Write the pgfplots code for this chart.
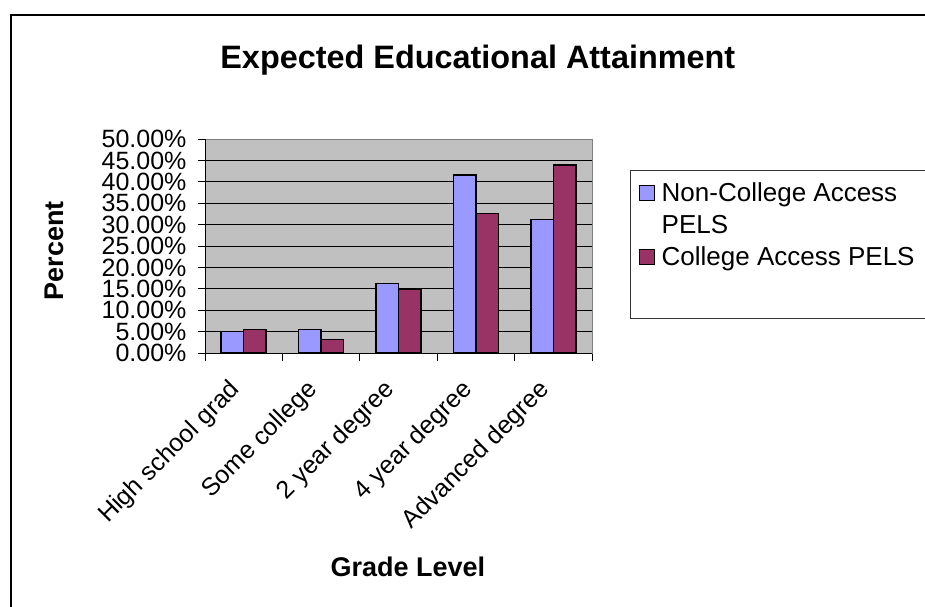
\documentclass[border=0pt]{standalone}
\usepackage{pgfplots}
\pgfplotsset{compat=1.18}
\usepackage{fontspec}
\setmainfont{Liberation Sans}
\definecolor{cBlue}{HTML}{9999FF}
\definecolor{cRed}{HTML}{993366}
\definecolor{cGray}{HTML}{C0C0C0}
\begin{document}
\begin{tikzpicture}
\clip (0,0) rectangle (925pt,606pt);
\fill[white] (0,0) rectangle (925pt,606pt);
\draw[line width=2pt] (11pt,-5pt) -- (11pt,591pt) -- (930pt,591pt);
\begin{axis}[
 at={(205pt,253pt)}, anchor=south west,
 width=387pt, height=214pt, scale only axis,
 ybar=0pt, bar width=22.5pt,
 xmin=-0.5, xmax=4.5, ymin=0, ymax=50,
 xtick={0,...,4},
 xticklabels={High school grad, Some college, 2 year degree, 4 year degree, Advanced degree},
 minor xtick={-0.5,0.5,...,4.5},
 ytick={0,5,...,50},
 yticklabel={\pgfmathprintnumber[fixed,fixed zerofill,precision=2]{\tick}\%},
 /pgf/number format/assume math mode=true,
 tick align=outside, tick pos=left,
 major tick length=7pt, minor tick length=8pt,
 xtick style={draw=none},
 minor x tick style={draw=black, line width=1pt},
 ytick style={draw=black, line width=1pt},
 ymajorgrids, major grid style={black, line width=1pt},
 axis background/.style={fill=cGray},
 axis line style={draw=gray, line width=1pt},
 tick label style={font=\fontsize{25}{25}\selectfont},
 yticklabel style={anchor=east, xshift=-8pt},
 xticklabel style={yshift=-24pt, xshift=-5pt, rotate=45, anchor=east},
 title={Expected Educational Attainment},
 title style={at={(axis description cs:0.705,1.341)}, anchor=center, font=\bfseries\fontsize{32.4}{32.4}\selectfont},
 xlabel={Grade Level},
 xlabel style={at={(axis description cs:0.5245,-1.0)}, anchor=center, font=\bfseries\fontsize{27}{27}\selectfont},
 ylabel={Percent},
 ylabel style={at={(axis description cs:-0.39,0.477)}, anchor=center, rotate=0, font=\bfseries\fontsize{27}{27}\selectfont},
 legend style={at={(axis description cs:1.106,0.832)}, anchor=north west, draw=none, fill=none,
   font=\fontsize{26}{32}\selectfont, row sep=8pt, inner xsep=6pt, inner ysep=6pt},
 legend cell align=left,
 legend image code/.code={\draw[#1, line width=1pt] (0pt,-7.5pt) rectangle (15pt,7.5pt); \path[draw=none,fill=none] (15pt,0pt) -- (20pt,0pt);},
]
\addplot[fill=cBlue, draw=black, line width=1.5pt] coordinates {(0,5.0) (1,5.5) (2,16.2) (3,41.6) (4,31.2)};
\addlegendentry{Non-College Access}
\addlegendimage{empty legend}
\addlegendentry{PELS}
\addplot[fill=cRed, draw=black, line width=1.5pt] coordinates {(0,5.5) (1,3.2) (2,14.9) (3,32.6) (4,43.9)};
\addlegendentry{College Access PELS}
\draw[black, line width=1pt] (rel axis cs:0,1) -- (rel axis cs:0,0) -- (rel axis cs:1,0);
\end{axis}
\draw[line width=1pt, draw=black!80] (630pt,435pt) rectangle (945pt,288pt);
\end{tikzpicture}
\end{document}
